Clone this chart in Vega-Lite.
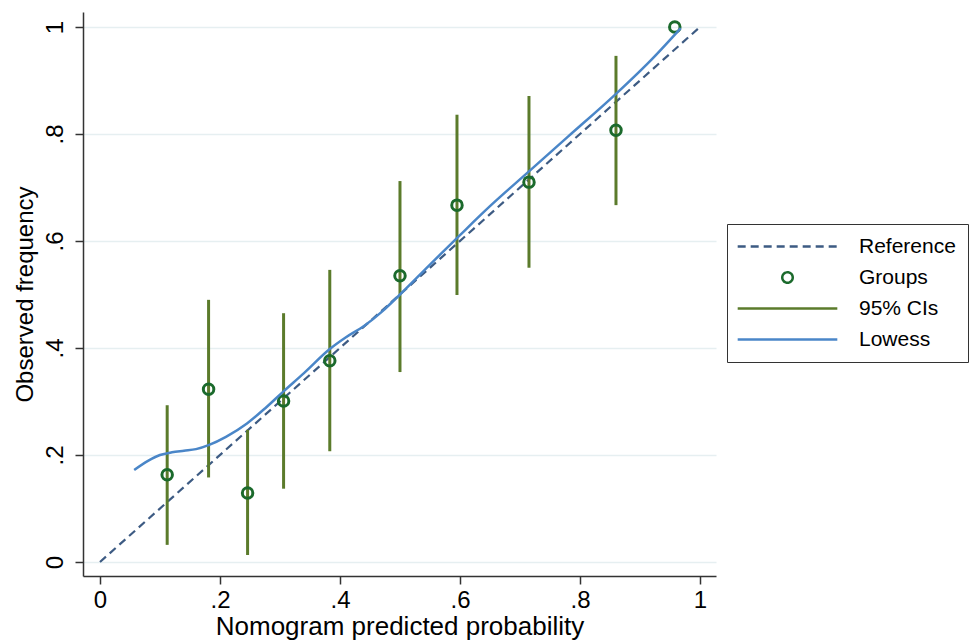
{
  "$schema": "https://vega.github.io/schema/vega-lite/v6.json",
  "width": 633,
  "height": 564,
  "autosize": {"type": "none"},
  "padding": {"left": 83, "top": 12, "right": 259, "bottom": 66},
  "background": "white",
  "config": {
    "view": {"stroke": null},
    "font": "Liberation Sans",
    "axis": {
      "domainColor": "#333333",
      "domainWidth": 1.5,
      "tickColor": "#333333",
      "tickWidth": 1.5,
      "tickSize": 8,
      "labelColor": "#000000",
      "titleColor": "#000000",
      "labelFont": "Liberation Sans",
      "titleFont": "Liberation Sans",
      "titleFontWeight": "normal",
      "labelFontSize": 24,
      "gridColor": "#e6eff1",
      "gridWidth": 1.5
    }
  },
  "datasets": {
    "ref": [
      {"p": 0, "obs": 0, "series": "Reference"},
      {"p": 1, "obs": 1, "series": "Reference"}
    ],
    "groups": [
      {"p": 0.112, "obs": 0.163, "series": "Groups"},
      {"p": 0.181, "obs": 0.323, "series": "Groups"},
      {"p": 0.246, "obs": 0.129, "series": "Groups"},
      {"p": 0.306, "obs": 0.301, "series": "Groups"},
      {"p": 0.383, "obs": 0.376, "series": "Groups"},
      {"p": 0.500, "obs": 0.535, "series": "Groups"},
      {"p": 0.595, "obs": 0.667, "series": "Groups"},
      {"p": 0.715, "obs": 0.710, "series": "Groups"},
      {"p": 0.860, "obs": 0.807, "series": "Groups"},
      {"p": 0.958, "obs": 1.000, "series": "Groups"}
    ],
    "cis": [
      {"p": 0.112, "lo": 0.032, "hi": 0.293, "series": "95% CIs"},
      {"p": 0.181, "lo": 0.158, "hi": 0.490, "series": "95% CIs"},
      {"p": 0.246, "lo": 0.013, "hi": 0.247, "series": "95% CIs"},
      {"p": 0.306, "lo": 0.137, "hi": 0.465, "series": "95% CIs"},
      {"p": 0.383, "lo": 0.207, "hi": 0.546, "series": "95% CIs"},
      {"p": 0.500, "lo": 0.355, "hi": 0.712, "series": "95% CIs"},
      {"p": 0.595, "lo": 0.499, "hi": 0.836, "series": "95% CIs"},
      {"p": 0.715, "lo": 0.550, "hi": 0.871, "series": "95% CIs"},
      {"p": 0.860, "lo": 0.667, "hi": 0.946, "series": "95% CIs"}
    ],
    "lowess": [
      {"p": 0.057, "obs": 0.172, "series": "Lowess"},
      {"p": 0.080, "obs": 0.189, "series": "Lowess"},
      {"p": 0.100, "obs": 0.200, "series": "Lowess"},
      {"p": 0.120, "obs": 0.205, "series": "Lowess"},
      {"p": 0.140, "obs": 0.208, "series": "Lowess"},
      {"p": 0.160, "obs": 0.211, "series": "Lowess"},
      {"p": 0.182, "obs": 0.219, "series": "Lowess"},
      {"p": 0.210, "obs": 0.234, "series": "Lowess"},
      {"p": 0.245, "obs": 0.259, "series": "Lowess"},
      {"p": 0.275, "obs": 0.287, "series": "Lowess"},
      {"p": 0.305, "obs": 0.318, "series": "Lowess"},
      {"p": 0.340, "obs": 0.353, "series": "Lowess"},
      {"p": 0.383, "obs": 0.398, "series": "Lowess"},
      {"p": 0.410, "obs": 0.420, "series": "Lowess"},
      {"p": 0.440, "obs": 0.441, "series": "Lowess"},
      {"p": 0.470, "obs": 0.468, "series": "Lowess"},
      {"p": 0.500, "obs": 0.500, "series": "Lowess"},
      {"p": 0.550, "obs": 0.556, "series": "Lowess"},
      {"p": 0.600, "obs": 0.611, "series": "Lowess"},
      {"p": 0.650, "obs": 0.665, "series": "Lowess"},
      {"p": 0.715, "obs": 0.730, "series": "Lowess"},
      {"p": 0.780, "obs": 0.795, "series": "Lowess"},
      {"p": 0.860, "obs": 0.875, "series": "Lowess"},
      {"p": 0.920, "obs": 0.940, "series": "Lowess"},
      {"p": 0.968, "obs": 0.998, "series": "Lowess"}
    ]
  },
  "layer": [
    {
      "data": {"name": "ref"},
      "mark": {"type": "line", "strokeWidth": 2.2},
      "encoding": {
        "x": {
          "field": "p", "type": "quantitative",
          "scale": {"domain": [-0.0283, 1.0267], "nice": false, "zero": false},
          "axis": {
            "values": [0, 0.2, 0.4, 0.6, 0.8, 1],
            "labelExpr": "datum.value == 0 ? '0' : datum.value == 1 ? '1' : replace(format(datum.value, '.1f'), '0.', '.')",
            "grid": false,
            "title": "Nomogram predicted probability",
            "titleFontSize": 26,
            "labelPadding": 4,
            "titlePadding": 1,
            "labelFlush": false
          }
        },
        "y": {
          "field": "obs", "type": "quantitative",
          "scale": {"domain": [-0.0262, 1.028], "nice": false, "zero": false},
          "axis": {
            "values": [0, 0.2, 0.4, 0.6, 0.8, 1],
            "labelExpr": "datum.value == 0 ? '0' : datum.value == 1 ? '1' : replace(format(datum.value, '.1f'), '0.', '.')",
            "grid": true,
            "labelAngle": 270,
            "labelAlign": "center",
            "labelBaseline": "bottom",
            "labelPadding": 8,
            "labelFlush": false,
            "title": "Observed frequency",
            "titleFontSize": 24,
            "titlePadding": 6
          }
        },
        "color": {
          "field": "series", "type": "nominal",
          "scale": {
            "domain": ["Reference", "Groups", "95% CIs", "Lowess"],
            "range": ["#3d5b83", "#1b6a2c", "#5b7b2b", "#4a86c8"]
          },
          "legend": {
            "title": null,
            "orient": "none",
            "legendX": 644,
            "legendY": 212,
            "strokeColor": "#333333",
            "fillColor": "white",
            "padding": 12,
            "labelFontSize": 21,
            "labelFont": "Liberation Sans",
            "labelColor": "#000000",
            "symbolSize": 110,
            "symbolStrokeWidth": 2.5,
            "symbolOffset": 38,
            "labelOffset": 61,
            "rowPadding": 9,
            "encode": {
              "symbols": {"update": {"fill": {"value": "transparent"}}}
            }
          }
        },
        "strokeDash": {
          "field": "series", "type": "nominal",
          "scale": {
            "domain": ["Reference", "Groups", "95% CIs", "Lowess"],
            "range": [[8, 5], [1, 0], [1, 0], [1, 0]]
          },
          "legend": {
            "title": null,
            "orient": "none",
            "legendX": 644,
            "legendY": 212
          }
        }
      }
    },
    {
      "data": {"name": "cis"},
      "mark": {"type": "rule", "strokeWidth": 3},
      "encoding": {
        "x": {"field": "p", "type": "quantitative"},
        "y": {"field": "lo", "type": "quantitative"},
        "y2": {"field": "hi"},
        "color": {"field": "series", "type": "nominal"}
      }
    },
    {
      "data": {"name": "groups"},
      "mark": {"type": "point", "filled": false, "size": 110, "strokeWidth": 3, "opacity": 1},
      "encoding": {
        "x": {"field": "p", "type": "quantitative"},
        "y": {"field": "obs", "type": "quantitative"},
        "color": {"field": "series", "type": "nominal"},
        "shape": {
          "field": "series", "type": "nominal",
          "scale": {
            "domain": ["Reference", "Groups", "95% CIs", "Lowess"],
            "range": ["M-9.5,0H9.5", "circle", "M-9.5,0H9.5", "M-9.5,0H9.5"]
          },
          "legend": {
            "title": null,
            "orient": "none",
            "legendX": 644,
            "legendY": 212
          }
        }
      }
    },
    {
      "data": {"name": "lowess"},
      "mark": {"type": "line", "strokeWidth": 2.5, "interpolate": "monotone"},
      "encoding": {
        "x": {"field": "p", "type": "quantitative"},
        "y": {"field": "obs", "type": "quantitative"},
        "color": {"field": "series", "type": "nominal"}
      }
    }
  ]
}
